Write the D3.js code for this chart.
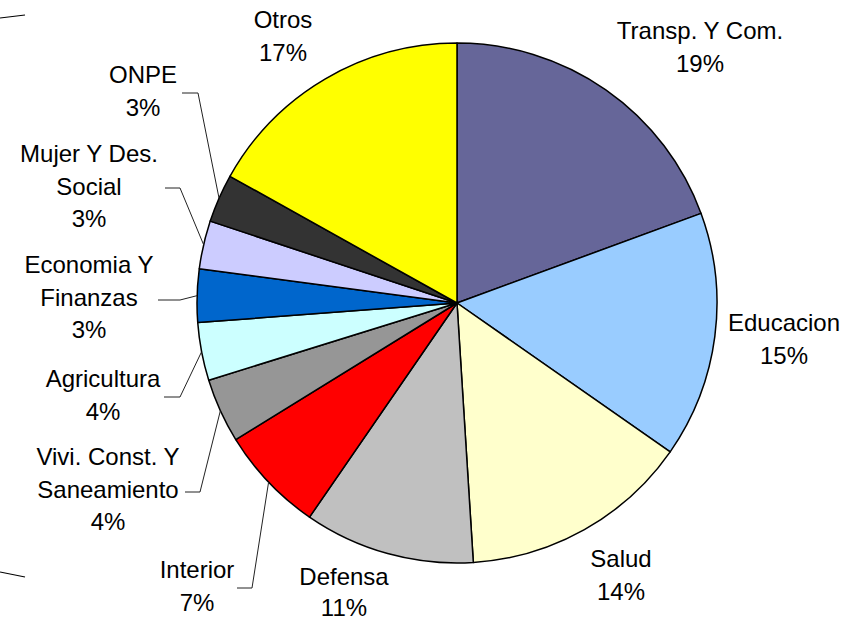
<!DOCTYPE html>
<html>
<head>
<meta charset="utf-8">
<script src="https://cdn.jsdelivr.net/npm/d3@7"></script>
<style>
  body { margin: 0; background: #fff; }
  svg { display: block; }
</style>
</head>
<body>
<div id="chart" style="width:857px;height:621px"></div>
<script>
const categories = ["Transp. Y Com.", "Educacion", "Salud", "Defensa", "Interior",
    "Vivi. Const. Y Saneamiento", "Agricultura", "Economia Y Finanzas",
    "Mujer Y Des. Social", "ONPE", "Otros"]
const values = [19.4, 15.3, 14.3, 10.6, 6.6, 4.0, 3.6, 3.3, 3.0, 3.0, 16.9]
const colors = ["#666699", "#99CCFF", "#FFFFCC", "#C0C0C0", "#FF0000",
    "#969696", "#CCFFFF", "#0066CC", "#CCCCFF", "#333333", "#FFFF00"]

// label text split into lines, and where Excel put each label
const label_lines = [
    ["Transp. Y Com."], ["Educacion"], ["Salud"], ["Defensa"], ["Interior"],
    ["Vivi. Const. Y", "Saneamiento"], ["Agricultura"], ["Economia Y", "Finanzas"],
    ["Mujer Y Des.", "Social"], ["ONPE"], ["Otros"]
]
const label_layout = [
    { x: 700, y: 39 },
    { x: 784, y: 331 },
    { x: 621, y: 567 },
    { x: 344, y: 585, gap: 31 },
    { x: 197, y: 578, leader: [237, 252, 588] },
    { x: 108, y: 465, leader: [185, 200, 492] },
    { x: 103, y: 387, leader: [164, 180, 397] },
    { x: 89, y: 273, leader: [158, 180, 300] },
    { x: 89, y: 162, leader: [165, 180, 188] },
    { x: 143, y: 83, leader: [182, 198, 93] },
    { x: 283, y: 28 }
]

function pie_chart(element_id) {
    const width = document.getElementById(element_id).clientWidth
    const height = document.getElementById(element_id).clientHeight
    const cx = 457, cy = 303, radius = 260
    const line_gap = 32.5

    const svg = d3.select(`#${element_id}`)
        .append("svg")
        .attr("width", width)
        .attr("height", height)

    // stray border marks at the left edge of the original picture
    svg.append("line").attr("x1", 0).attr("y1", 18).attr("x2", 25).attr("y2", 15)
        .attr("stroke", "#000").attr("stroke-width", 1.2)
    svg.append("line").attr("x1", 0).attr("y1", 572).attr("x2", 25).attr("y2", 577)
        .attr("stroke", "#000").attr("stroke-width", 1.2)

    const total = d3.sum(values)
    const data = categories.map((c, i) => ({ name: c, value: values[i], i: i }))

    const pie = d3.pie().sort(null).value(d => d.value)
    const arcs = pie(data)

    const arc = d3.arc().innerRadius(0).outerRadius(radius)
    const edge = d3.arc().innerRadius(radius).outerRadius(radius)

    const g = svg.append("g").attr("transform", `translate(${cx},${cy})`)

    g.selectAll("path.slice")
        .data(arcs)
        .enter().append("path")
        .attr("class", "slice")
        .attr("d", arc)
        .attr("fill", d => colors[d.data.i])
        .attr("stroke", "#000")
        .attr("stroke-width", 1.5)
        .attr("stroke-linejoin", "round")

    // leader lines
    arcs.forEach(d => {
        const lay = label_layout[d.data.i]
        if (!lay.leader) return
        const [px, py] = edge.centroid(d)
        const [x1, x2, y] = lay.leader
        svg.append("polyline")
            .attr("points", `${x1},${y} ${x2},${y} ${cx + px},${cy + py}`)
            .attr("fill", "none")
            .attr("stroke", "#222")
            .attr("stroke-width", 1)
    })

    // labels
    arcs.forEach(d => {
        const lay = label_layout[d.data.i]
        const gap = lay.gap || line_gap
        const lines = label_lines[d.data.i].concat([Math.round(d.value / total * 100) + "%"])
        const t = svg.append("text")
            .attr("text-anchor", "middle")
            .attr("font-family", "Liberation Sans, Arial, sans-serif")
            .attr("font-size", "24px")
            .attr("fill", "#000")
        lines.forEach((s, k) => {
            t.append("tspan")
                .attr("x", lay.x)
                .attr("y", lay.y + k * gap)
                .text(s)
        })
    })
}

pie_chart("chart")
</script>
</body>
</html>
